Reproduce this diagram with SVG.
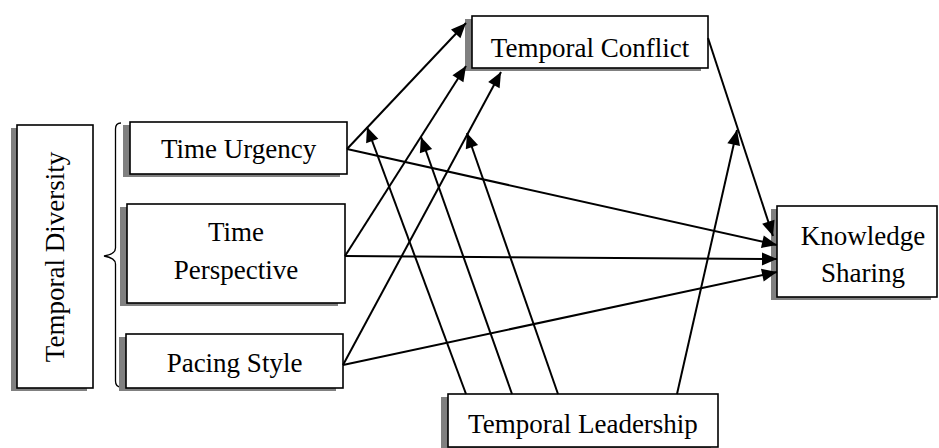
<svg xmlns="http://www.w3.org/2000/svg" width="939" height="448" viewBox="0 0 939 448">
  <style>
    .shadow { fill: #808080; }
    .box { fill: #ffffff; stroke: #000000; stroke-width: 1.6; }
    .label { font-family: "Liberation Serif", "Times New Roman", serif; font-size: 27px; fill: #000000; text-anchor: middle; }
    .edge { fill: none; stroke: #000000; stroke-width: 2; }
    .brace { fill: none; stroke: #000000; stroke-width: 1.3; }
  </style>
  <defs>
    <marker id="arrow" markerUnits="userSpaceOnUse" markerWidth="17" markerHeight="13" refX="15" refY="6.5" orient="auto" overflow="visible">
      <path d="M0,0 L15,6.5 L0,13 Z" fill="#000000"/>
    </marker>
  </defs>
  <rect width="939" height="448" fill="#ffffff"/>

  <!-- nodes -->
  <g id="temporal-diversity">
    <rect class="shadow" x="11" y="128" width="76" height="263"/>
    <rect class="box" x="17" y="125" width="76" height="263"/>
    <text class="label" transform="translate(64,257) rotate(-90)">Temporal Diversity</text>
  </g>

  <g id="diversity-brace">
    <path class="brace" d="M121,123 Q115.5,123 115.5,129 L115.5,248 Q115.5,254 104,256 Q115.5,258 115.5,264 L115.5,381 Q115.5,387 121,387"/>
  </g>

  <g id="time-urgency">
    <rect class="shadow" x="123" y="125" width="217" height="52"/>
    <rect class="box" x="130" y="122" width="217" height="52"/>
    <text class="label" x="238.5" y="158">Time Urgency</text>
  </g>

  <g id="time-perspective">
    <rect class="shadow" x="120" y="207" width="218" height="99"/>
    <rect class="box" x="127" y="204" width="218" height="99"/>
    <text class="label" x="236" y="241">Time</text>
    <text class="label" x="236" y="279">Perspective</text>
  </g>

  <g id="pacing-style">
    <rect class="shadow" x="119" y="337" width="217" height="54"/>
    <rect class="box" x="126" y="334" width="217" height="54"/>
    <text class="label" x="234.5" y="372">Pacing Style</text>
  </g>

  <g id="temporal-conflict">
    <rect class="shadow" x="465" y="19" width="236" height="52"/>
    <rect class="box" x="472" y="16" width="236" height="52"/>
    <text class="label" x="590" y="57">Temporal Conflict</text>
  </g>

  <g id="knowledge-sharing">
    <rect class="shadow" x="771" y="209" width="160" height="91"/>
    <rect class="box" x="777" y="206" width="160" height="91"/>
    <text class="label" x="863" y="245">Knowledge</text>
    <text class="label" x="863" y="282">Sharing</text>
  </g>

  <g id="temporal-leadership">
    <rect class="shadow" x="441" y="397" width="270" height="53"/>
    <rect class="box" x="448" y="394" width="270" height="53"/>
    <text class="label" x="583" y="433">Temporal Leadership</text>
  </g>

  <!-- connectors -->
  <g id="connectors">
    <line class="edge" x1="347" y1="149" x2="466" y2="23" marker-end="url(#arrow)"/>
    <line class="edge" x1="345" y1="256" x2="466" y2="66" marker-end="url(#arrow)"/>
    <line class="edge" x1="343" y1="365" x2="501" y2="72" marker-end="url(#arrow)"/>
    <line class="edge" x1="708" y1="38" x2="773" y2="236" marker-end="url(#arrow)"/>
    <line class="edge" x1="347" y1="149" x2="777" y2="245" marker-end="url(#arrow)"/>
    <line class="edge" x1="345" y1="256" x2="777" y2="259" marker-end="url(#arrow)"/>
    <line class="edge" x1="343" y1="365" x2="777" y2="272" marker-end="url(#arrow)"/>
    <line class="edge" x1="466" y1="394" x2="367" y2="127" marker-end="url(#arrow)"/>
    <line class="edge" x1="512" y1="394" x2="421" y2="137" marker-end="url(#arrow)"/>
    <line class="edge" x1="558" y1="394" x2="467" y2="133" marker-end="url(#arrow)"/>
    <line class="edge" x1="677" y1="394" x2="737" y2="130" marker-end="url(#arrow)"/>
  </g>
</svg>
